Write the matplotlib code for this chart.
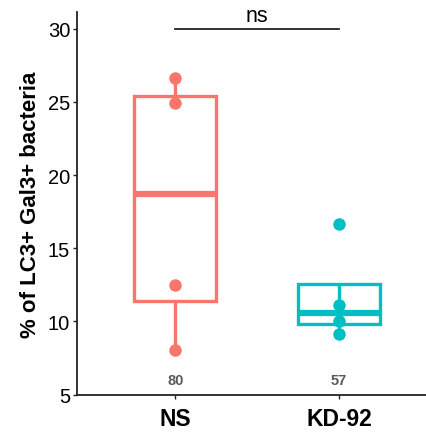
import numpy as np
import matplotlib
matplotlib.use("Agg")
import matplotlib.pyplot as plt

plt.rcParams['font.family'] = ['Liberation Sans', 'DejaVu Sans']

groups = ['NS', 'KD-92']
colors = ['#F8766D', '#00BFC4']
values = [
  [26.65, 24.95, 12.5, 8.03],
  [16.68, 11.15, 10.05, 9.15],
]
counts = ['80', '57']
test_label = 'ns'


def r_quantiles(v):
  # type-7 quantiles like ggplot's stat_boxplot
  return np.percentile(v, [25, 50, 75])


fig = plt.figure(figsize=(4.26, 4.35), dpi=100)
ax = fig.add_axes([0.181, 0.0897, 0.819, 0.8804])

half = 0.25
for i, (v, c) in enumerate(zip(values, colors)):
  x = i + 1
  v = np.array(v)
  q1, med, q3 = r_quantiles(v)
  iqr = q3 - q1
  inside = v[(v >= q1 - 1.5 * iqr) & (v <= q3 + 1.5 * iqr)]
  lo, hi = inside.min(), inside.max()
  ax.plot([x, x], [q3, hi], color=c, lw=2.4, solid_capstyle='butt', zorder=2)
  ax.plot([x, x], [lo, q1], color=c, lw=2.4, solid_capstyle='butt', zorder=2)
  ax.add_patch(plt.Rectangle((x - half, q1), 2 * half, q3 - q1, fill=False,
                             ec=c, lw=2.4, zorder=2))
  ax.plot([x - half, x + half], [med, med], color=c, lw=4.5,
          solid_capstyle='butt', zorder=2)
  ax.plot(np.full(len(v), x), v, 'o', color=c, ms=9, mec='none', zorder=3)
  ax.text(x, 6.0, counts[i], ha='center', va='center', fontsize=10.5,
          color='#5a5a5a', fontweight='bold')

ax.plot([1, 2], [30, 30], color='#222222', lw=1.3)
ax.text(1.5, 30.2, test_label, ha='center', va='bottom', fontsize=15.5)

ax.set_xlim(0.4, 2.53)
ax.set_ylim(4.98, 31.14)
ax.set_xticks([1, 2])
ax.set_xticklabels(groups, fontsize=16.5, fontweight='bold')
ax.set_yticks([5, 10, 15, 20, 25, 30])
ax.tick_params(axis='y', labelsize=14.5, length=3, width=1, colors='#222222', pad=2)
ax.tick_params(axis='x', length=3, width=1, colors='#222222', pad=6)
for lab in ax.get_xticklabels() + ax.get_yticklabels():
  lab.set_color('black')
ax.set_ylabel('% of LC3+ Gal3+ bacteria', fontsize=16, fontweight='bold', labelpad=5)
for s in ['top', 'right']:
  ax.spines[s].set_visible(False)
for s in ['left', 'bottom']:
  ax.spines[s].set_linewidth(1.3)
  ax.spines[s].set_color('#222222')

fig.savefig('out.png', dpi=100)
